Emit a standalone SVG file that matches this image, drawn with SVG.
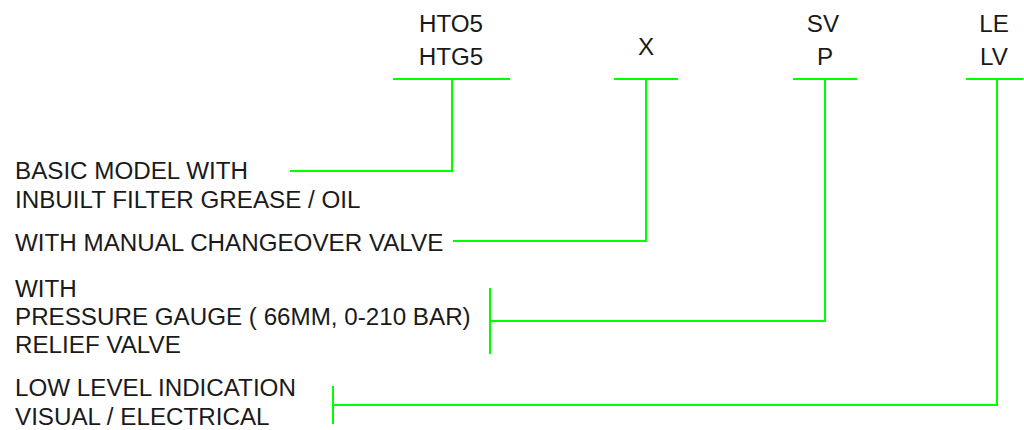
<svg xmlns="http://www.w3.org/2000/svg" width="1024" height="430" viewBox="0 0 1024 430">
<style>
text{font-family:"Liberation Sans",Arial,sans-serif;font-size:24.2px;fill:#1a1a1a}
.c{text-anchor:middle}
.ln{stroke:#00ff00;stroke-width:2;fill:none}
</style>
<rect width="1024" height="430" fill="#fff"/>
<g id="code-model"><text class="c" x="451" y="32">HTO5</text><text class="c" x="451" y="65">HTG5</text><line class="ln" x1="393" y1="79" x2="510" y2="79"/></g>
<g id="code-x"><text class="c" x="646" y="55">X</text><line class="ln" x1="614" y1="79" x2="678" y2="79"/></g>
<g id="code-sv"><text class="c" x="823" y="32">SV</text><text class="c" x="825" y="65">P</text><line class="ln" x1="793" y1="79" x2="857" y2="79"/></g>
<g id="code-le"><text class="c" x="994" y="32">LE</text><text class="c" x="994" y="65">LV</text><line class="ln" x1="966" y1="79" x2="1023" y2="79"/></g>
<g id="desc-model"><text x="15" y="179">BASIC MODEL WITH</text><text x="15" y="208">INBUILT FILTER GREASE / OIL</text></g>
<g id="desc-x"><text x="15" y="251">WITH MANUAL CHANGEOVER VALVE</text></g>
<g id="desc-sv"><text x="15" y="297">WITH</text><text x="15" y="325">PRESSURE GAUGE ( 66MM, 0-210 BAR)</text><text x="15" y="353">RELIEF VALVE</text><line class="ln" x1="490" y1="288" x2="490" y2="354"/></g>
<g id="desc-le"><text x="15" y="396">LOW LEVEL INDICATION</text><text x="15" y="425">VISUAL / ELECTRICAL</text><line class="ln" x1="333" y1="386" x2="333" y2="424"/></g>
<g id="connectors">
<polyline class="ln" points="452,79 452,171 290,171"/>
<polyline class="ln" points="646,79 646,241 453,241"/>
<polyline class="ln" points="825,79 825,321 490,321"/>
<polyline class="ln" points="997,79 997,405 333,405"/>
</g>
</svg>
